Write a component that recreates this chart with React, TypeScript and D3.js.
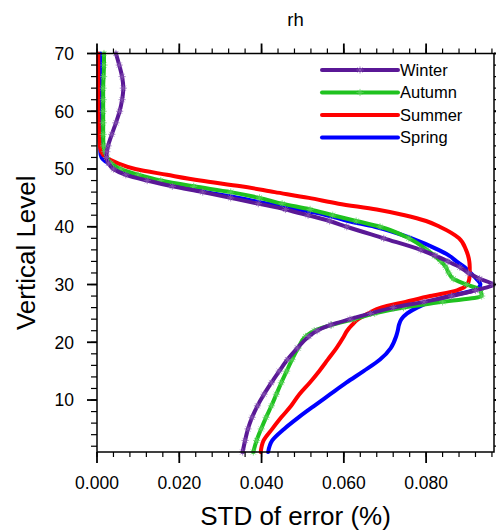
import React from "react";
import * as d3 from "d3";

const width = 496;
const height = 532;
const margin = { top: 53.5, right: 2, bottom: 80, left: 97 };
const innerWidth = width - margin.left - margin.right;
const innerHeight = height - margin.top - margin.bottom;

const levels = [
  1, 3, 5, 7, 9, 11, 13, 15, 17, 19, 21, 22, 23, 24, 25, 26, 27, 28, 29, 30,
  31, 32, 33, 34, 35, 36, 38, 40, 41, 42, 43, 44, 45, 46, 47, 48, 49, 50, 51,
  52, 53, 54, 56, 58, 60, 62, 64, 66, 68, 70,
];

const winter = [
  0.0354, 0.036, 0.0367, 0.0377, 0.039, 0.0406, 0.0424, 0.0443, 0.0463, 0.0487,
  0.0515, 0.0535, 0.0568, 0.0615, 0.0665, 0.072, 0.0795, 0.0862, 0.092, 0.0962,
  0.093, 0.0903, 0.0882, 0.0853, 0.0822, 0.0787, 0.0697, 0.0607, 0.0565, 0.0513,
  0.0458, 0.0392, 0.0325, 0.0257, 0.0183, 0.0122, 0.007, 0.004, 0.0028, 0.0023,
  0.0024, 0.0027, 0.0036, 0.0046, 0.0055, 0.0061, 0.0064, 0.0061, 0.0054, 0.0046,
];
const autumn = [
  0.038, 0.0388, 0.0399, 0.0411, 0.0424, 0.0436, 0.0448, 0.0461, 0.0474, 0.0489,
  0.0507, 0.0528, 0.057, 0.0625, 0.0675, 0.0745, 0.084, 0.0935, 0.0932, 0.0898,
  0.0866, 0.0855, 0.0848, 0.0836, 0.082, 0.0802, 0.0758, 0.0688, 0.063, 0.0573,
  0.0518, 0.045, 0.0395, 0.0325, 0.0235, 0.0155, 0.01, 0.0058, 0.0034, 0.0024,
  0.0019, 0.0016, 0.0015, 0.0015, 0.0015, 0.0015, 0.0015, 0.0016, 0.0017, 0.0017,
];
const summer = [
  0.0398, 0.0405, 0.0426, 0.0448, 0.0472, 0.0492, 0.0517, 0.054, 0.0561, 0.0582,
  0.06, 0.0608, 0.062, 0.0635, 0.066, 0.069, 0.075, 0.081, 0.0875, 0.09,
  0.0905, 0.0906, 0.0906, 0.0905, 0.0902, 0.0897, 0.088, 0.0833, 0.08, 0.0748,
  0.068, 0.0587, 0.0515, 0.0432, 0.035, 0.0251, 0.017, 0.0093, 0.005, 0.0022,
  0.001, 0.0007, 0.0005, 0.0004, 0.0003, 0.0003, 0.0003, 0.0003, 0.0003, 0.0003,
];
const spring = [
  0.0416, 0.0426, 0.0455, 0.049, 0.0528, 0.0567, 0.0606, 0.0648, 0.0688, 0.0714,
  0.0727, 0.0731, 0.0734, 0.074, 0.0754, 0.0778, 0.081, 0.0855, 0.0915, 0.0932,
  0.0922, 0.0908, 0.0894, 0.0874, 0.0856, 0.083, 0.0765, 0.0675, 0.061, 0.0558,
  0.049, 0.0415, 0.0345, 0.0265, 0.02, 0.014, 0.0089, 0.0052, 0.0027, 0.0011,
  0.0008, 0.0008, 0.0008, 0.0008, 0.0008, 0.0008, 0.0008, 0.0008, 0.0008, 0.0008,
];

const xTicks = [0, 0.02, 0.04, 0.06, 0.08];
const yTicks = [10, 20, 30, 40, 50, 60, 70];

// drawing order: spring first, winter on top
const series = [
  { name: "Spring", values: spring, color: "#0000ff", marker: false },
  { name: "Summer", values: summer, color: "#ff0000", marker: false },
  { name: "Autumn", values: autumn, color: "#1fc21f", marker: true },
  { name: "Winter", values: winter, color: "#5a1896", marker: true },
];
const legendOrder = ["Winter", "Autumn", "Summer", "Spring"];

const font = "'Liberation Sans', Arial, Helvetica, sans-serif";

const App = () => {
  const xScale = d3.scaleLinear().domain([0, 0.0965]).range([0, innerWidth]);
  const yScale = d3.scaleLinear().domain([1, 70]).range([innerHeight, 0]);

  const line = d3
    .line<number>()
    .x((d) => xScale(d))
    .y((d, i) => yScale(levels[i]))
    .curve(d3.curveMonotoneY);

  const xMinor = d3.range(0, 0.0965, 0.004);
  const yMinor = d3.range(2, 71, 2);

  // small star-like marker (NCL style), lighter tint of the line colour
  const star = (cx: number, cy: number, key: string, color: string) => {
    const c = d3.interpolateRgb(color, "#ffffff")(0.3);
    const r = 3.6;
    const q = r * 0.7;
    return (
      <path
        key={key}
        d={`M${cx - r},${cy}H${cx + r}M${cx},${cy - r}V${cy + r}M${cx - q},${cy - q}L${cx + q},${cy + q}M${cx - q},${cy + q}L${cx + q},${cy - q}`}
        stroke={c}
        strokeWidth={0.9}
        opacity={0.8}
      />
    );
  };

  return (
    <svg
      width={width}
      height={height}
      style={{ position: "absolute", left: 0, top: 0, background: "white" }}
      fontFamily={font}
    >
      <text x={margin.left + innerWidth / 2} y={26} textAnchor="middle" fontSize={18.5}>
        rh
      </text>
      <g transform={`translate(${margin.left},${margin.top})`}>
        {series.map((s) => (
          <g key={s.name}>
            <path
              d={line(s.values) || ""}
              fill="none"
              stroke={s.color}
              strokeWidth={4}
              strokeLinejoin="round"
              strokeLinecap="round"
            />
            {s.marker &&
              s.values.map((v, i) =>
                star(xScale(v), yScale(levels[i]), s.name + i, s.color)
              )}
          </g>
        ))}

        <rect
          x={0}
          y={0}
          width={innerWidth}
          height={innerHeight}
          fill="none"
          stroke="black"
          strokeWidth={1.5}
        />

        {/* x ticks, bottom and top, pointing outward */}
        {xMinor.map((t, i) => (
          <g key={"xm" + i}>
            <line x1={xScale(t)} x2={xScale(t)} y1={innerHeight} y2={innerHeight + 5} stroke="black" strokeWidth={1.2} />
            <line x1={xScale(t)} x2={xScale(t)} y1={0} y2={-5} stroke="black" strokeWidth={1.2} />
          </g>
        ))}
        {xTicks.map((t) => (
          <g key={"x" + t}>
            <line x1={xScale(t)} x2={xScale(t)} y1={innerHeight} y2={innerHeight + 11} stroke="black" strokeWidth={1.8} />
            <line x1={xScale(t)} x2={xScale(t)} y1={0} y2={-10} stroke="black" strokeWidth={1.8} />
            <text x={xScale(t)} y={innerHeight + 37} textAnchor="middle" fontSize={17.5}>
              {d3.format(".3f")(t)}
            </text>
          </g>
        ))}

        {/* y ticks, left and right */}
        {yMinor.map((t) => (
          <g key={"ym" + t}>
            <line x1={0} x2={-6} y1={yScale(t)} y2={yScale(t)} stroke="black" strokeWidth={1.2} />
            <line x1={innerWidth} x2={innerWidth + 6} y1={yScale(t)} y2={yScale(t)} stroke="black" strokeWidth={1.2} />
          </g>
        ))}
        {yTicks.map((t) => (
          <g key={"y" + t}>
            <line x1={0} x2={-10} y1={yScale(t)} y2={yScale(t)} stroke="black" strokeWidth={1.8} />
            <line x1={innerWidth} x2={innerWidth + 10} y1={yScale(t)} y2={yScale(t)} stroke="black" strokeWidth={1.8} />
            <text x={-23} y={yScale(t)} dy="0.36em" textAnchor="end" fontSize={17.5}>
              {t}
            </text>
          </g>
        ))}
      </g>

      {/* legend */}
      {legendOrder.map((name, i) => {
        const s = series.find((d) => d.name === name)!;
        const ly = 70 + i * 22.5;
        return (
          <g key={"lg" + name}>
            <line x1={322} x2={398} y1={ly} y2={ly} stroke={s.color} strokeWidth={4} strokeLinecap="round" />
            {s.marker && star(360, ly, "lm" + name, s.color)}
            <text x={400} y={ly} dy="0.36em" fontSize={16.5}>
              {name}
            </text>
          </g>
        );
      })}

      <text x={margin.left + innerWidth / 2} y={525} textAnchor="middle" fontSize={26}>
        STD of error (%)
      </text>
      <text
        transform={`translate(35,${margin.top + innerHeight / 2}) rotate(-90)`}
        textAnchor="middle"
        fontSize={26}
      >
        Vertical Level
      </text>
    </svg>
  );
};

export default App;
